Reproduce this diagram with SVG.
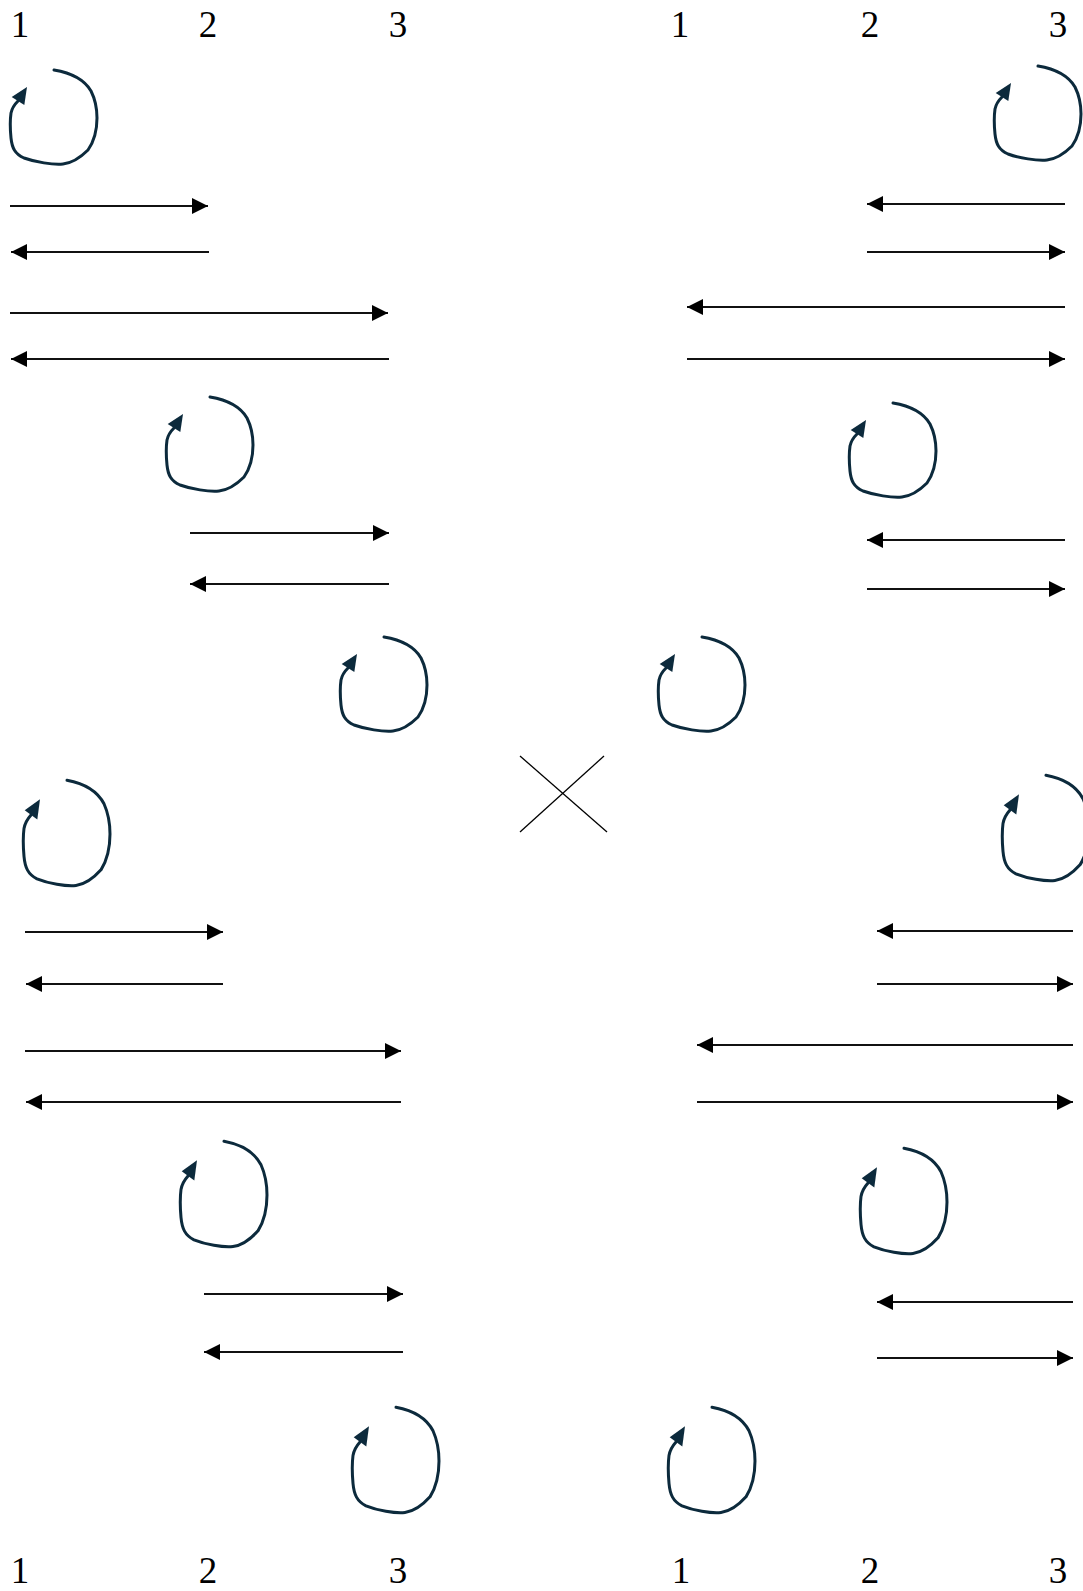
<svg xmlns="http://www.w3.org/2000/svg" width="1083" height="1591" viewBox="0 0 1083 1591">
<style>
.lbl{font-family:"Liberation Serif","DejaVu Serif",serif;font-size:37px;fill:#000;text-anchor:middle}
.arr{stroke:#111;stroke-width:1.9;fill:none;marker-end:url(#ah)}
.lp{fill:none;stroke:#0c2a3c;stroke-width:3;stroke-linecap:round;stroke-linejoin:round;vector-effect:non-scaling-stroke}
.lh{fill:#0c2a3c;stroke:none}
.cross{stroke:#000;stroke-width:1.3}
</style>
<defs>
<marker id="ah" markerUnits="userSpaceOnUse" markerWidth="16" markerHeight="16" refX="16" refY="8" orient="auto">
<path d="M0,0 L16,8 L0,16 Z" fill="#000"/>
</marker>
<g id="loopShape">
<path class="lp" fill="none" stroke="#0c2a3c" stroke-width="3" d="M44,2 C62,5 74,11 81,23 C86,33 87,42 87,50 C87,62 85,72 78,82 C70,90 62,95 53,96 C43,97 25,94 14,90 C5,86 2,80 1,70 C0,60 0,52 1,45 C2,40 5,36 8,33"/>
<polygon class="lh" fill="#0c2a3c" points="17,19 1.7,28.9 14.3,37.1"/>
</g>
</defs>
<rect width="1083" height="1591" fill="#fff"/>
<g id="labels-top">
<text class="lbl" x="20" y="37">1</text>
<text class="lbl" x="208" y="37">2</text>
<text class="lbl" x="398" y="37">3</text>
<text class="lbl" x="680" y="37">1</text>
<text class="lbl" x="870" y="37">2</text>
<text class="lbl" x="1058" y="37">3</text>
</g>
<g id="labels-bottom">
<text class="lbl" x="20" y="1583">1</text>
<text class="lbl" x="208" y="1583">2</text>
<text class="lbl" x="398" y="1583">3</text>
<text class="lbl" x="681" y="1583">1</text>
<text class="lbl" x="870" y="1583">2</text>
<text class="lbl" x="1058" y="1583">3</text>
</g>
<g id="loop-1"><use href="#loopShape" transform="translate(10,68)"/></g>
<g id="loop-2"><use href="#loopShape" transform="translate(994,64)"/></g>
<g id="loop-3"><use href="#loopShape" transform="translate(166,395)"/></g>
<g id="loop-4"><use href="#loopShape" transform="translate(849,401)"/></g>
<g id="loop-5"><use href="#loopShape" transform="translate(340,635)"/></g>
<g id="loop-6"><use href="#loopShape" transform="translate(658,635)"/></g>
<g id="loop-7"><use href="#loopShape" transform="translate(23,778) scale(1,1.12)"/></g>
<g id="loop-8"><use href="#loopShape" transform="translate(1002,773) scale(1,1.12)"/></g>
<g id="loop-9"><use href="#loopShape" transform="translate(180,1139) scale(1,1.12)"/></g>
<g id="loop-10"><use href="#loopShape" transform="translate(860,1146) scale(1,1.12)"/></g>
<g id="loop-11"><use href="#loopShape" transform="translate(352,1405) scale(1,1.12)"/></g>
<g id="loop-12"><use href="#loopShape" transform="translate(668,1405) scale(1,1.12)"/></g>
<g id="cross">
<line class="cross" x1="520" y1="756" x2="607" y2="832"/>
<line class="cross" x1="604" y1="756" x2="520" y2="832"/>
</g>
<g id="connectors">
<line class="arr" x1="10" y1="206" x2="208" y2="206"/>
<line class="arr" x1="209" y1="252" x2="11" y2="252"/>
<line class="arr" x1="10" y1="313" x2="388" y2="313"/>
<line class="arr" x1="389" y1="359" x2="11" y2="359"/>
<line class="arr" x1="1065" y1="204" x2="867" y2="204"/>
<line class="arr" x1="867" y1="252" x2="1065" y2="252"/>
<line class="arr" x1="1065" y1="307" x2="687" y2="307"/>
<line class="arr" x1="687" y1="359" x2="1065" y2="359"/>
<line class="arr" x1="190" y1="533" x2="389" y2="533"/>
<line class="arr" x1="389" y1="584" x2="190" y2="584"/>
<line class="arr" x1="1065" y1="540" x2="867" y2="540"/>
<line class="arr" x1="867" y1="589" x2="1065" y2="589"/>
<line class="arr" x1="25" y1="932" x2="223" y2="932"/>
<line class="arr" x1="223" y1="984" x2="26" y2="984"/>
<line class="arr" x1="25" y1="1051" x2="401" y2="1051"/>
<line class="arr" x1="401" y1="1102" x2="26" y2="1102"/>
<line class="arr" x1="1073" y1="931" x2="877" y2="931"/>
<line class="arr" x1="877" y1="984" x2="1073" y2="984"/>
<line class="arr" x1="1073" y1="1045" x2="697" y2="1045"/>
<line class="arr" x1="697" y1="1102" x2="1073" y2="1102"/>
<line class="arr" x1="204" y1="1294" x2="403" y2="1294"/>
<line class="arr" x1="403" y1="1352" x2="204" y2="1352"/>
<line class="arr" x1="1073" y1="1302" x2="877" y2="1302"/>
<line class="arr" x1="877" y1="1358" x2="1073" y2="1358"/>
</g>
</svg>
